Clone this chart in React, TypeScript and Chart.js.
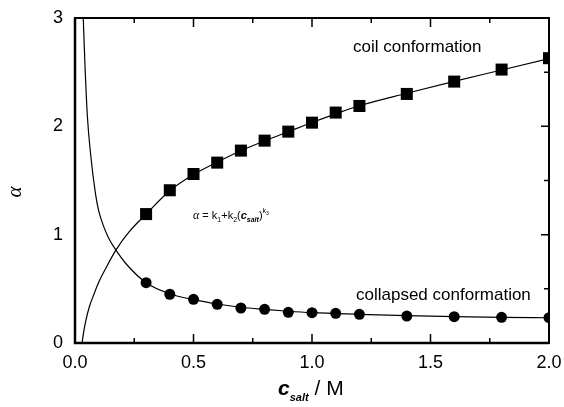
import React, { useEffect, useRef } from "react";
import { Chart, registerables } from "chart.js";

Chart.register(...registerables);

// measured data (c_salt / M)
const saltConc = [0.3, 0.4, 0.5, 0.6, 0.7, 0.8, 0.9, 1.0, 1.1, 1.2, 1.4, 1.6, 1.8, 2.0];
const coilAlpha = [1.19, 1.41, 1.56, 1.665, 1.776, 1.868, 1.951, 2.034, 2.127, 2.188, 2.299, 2.413, 2.524, 2.629];
const collapsedAlpha = [0.557, 0.45, 0.403, 0.357, 0.323, 0.311, 0.283, 0.28, 0.274, 0.265, 0.249, 0.243, 0.237, 0.234];

// fitted curves
const coilFitX = [0.03, 0.035, 0.045, 0.06, 0.08, 0.1, 0.13, 0.173, 0.23, 0.3, 0.4, 0.5, 0.6, 0.7, 0.8, 0.9, 1.0, 1.1, 1.2, 1.4, 1.6, 1.8, 2.0];
const coilFitY = [0.0, 0.08, 0.2, 0.33, 0.45, 0.56, 0.69, 0.86, 1.03, 1.19, 1.405, 1.555, 1.67, 1.775, 1.865, 1.95, 2.035, 2.115, 2.19, 2.305, 2.415, 2.52, 2.625];
const collapsedFitX = [0.035, 0.042, 0.052, 0.066, 0.087, 0.1, 0.122, 0.145, 0.172, 0.22, 0.3, 0.4, 0.5, 0.6, 0.7, 0.8, 0.9, 1.0, 1.2, 1.4, 1.6, 1.8, 2.0];
const collapsedFitY = [2.99, 2.57, 2.1, 1.74, 1.37, 1.22, 1.07, 0.955, 0.86, 0.72, 0.557, 0.455, 0.4, 0.36, 0.33, 0.31, 0.293, 0.28, 0.265, 0.252, 0.243, 0.237, 0.233];

// axis ticks
const xTickLabels = ["0.0", "0.5", "1.0", "1.5", "2.0"];
const yTickLabels = ["0", "1", "2", "3"];
const xMajorTicks = [0.5, 1.0, 1.5];
const xMinorTicks = [0.25, 0.75, 1.25, 1.75];
const yMajorTicks = [1, 2];
const yMinorTicks = [0.5, 1.5, 2.5];

const SANS = "'Liberation Sans', Arial, sans-serif";
const SERIF = "'Liberation Serif', 'Times New Roman', serif";

function drawRuns(ctx: CanvasRenderingContext2D, x: number, y: number, runs: [string, string, number][]) {
  let cx = x;
  for (const [text, font, dy] of runs) {
    ctx.font = font;
    ctx.fillText(text, cx, y + dy);
    cx += ctx.measureText(text).width;
  }
}

const decorPlugin = {
  id: "decor",
  afterDraw(chart: any) {
    const ctx: CanvasRenderingContext2D = chart.ctx;
    const xs = chart.scales.x;
    const ys = chart.scales.y;
    const { left, right, top, bottom } = chart.chartArea;
    ctx.save();
    ctx.strokeStyle = "#000";
    ctx.fillStyle = "#000";
    // frame
    ctx.lineWidth = 2;
    ctx.strokeRect(left, top, right - left, bottom - top);
    ctx.lineWidth = 2.5;
    ctx.beginPath();
    ctx.moveTo(left, top);
    ctx.lineTo(left, bottom);
    ctx.lineTo(right, bottom);
    ctx.stroke();
    // inward ticks
    ctx.lineWidth = 1.5;
    ctx.beginPath();
    for (const v of xMajorTicks) {
      const p = xs.getPixelForValue(v);
      ctx.moveTo(p, bottom); ctx.lineTo(p, bottom - 9);
      ctx.moveTo(p, top); ctx.lineTo(p, top + 9);
    }
    for (const v of xMinorTicks) {
      const p = xs.getPixelForValue(v);
      ctx.moveTo(p, bottom); ctx.lineTo(p, bottom - 5);
      ctx.moveTo(p, top); ctx.lineTo(p, top + 5);
    }
    for (const v of yMajorTicks) {
      const p = ys.getPixelForValue(v);
      ctx.moveTo(right, p); ctx.lineTo(right - 8, p);
    }
    for (const v of yMinorTicks) {
      const p = ys.getPixelForValue(v);
      ctx.moveTo(right, p); ctx.lineTo(right - 5, p);
    }
    ctx.stroke();

    // annotations
    ctx.textAlign = "left";
    ctx.textBaseline = "alphabetic";
    ctx.font = `17px ${SANS}`;
    ctx.fillText("coil conformation", 353, 52);
    ctx.fillText("collapsed conformation", 356, 300);

    drawRuns(ctx, 193, 219, [
      ["α", `italic 12px ${SERIF}`, 0],
      [" = k", `11px ${SANS}`, 0],
      ["1", `7px ${SANS}`, 3],
      ["+k", `11px ${SANS}`, 0],
      ["2", `7px ${SANS}`, 3],
      ["(", `11px ${SANS}`, 0],
      ["c", `italic bold 11px ${SANS}`, 0],
      ["salt", `italic bold 7px ${SANS}`, 3],
      [")", `11px ${SANS}`, 0],
      ["k", `7px ${SANS}`, -6],
      ["3", `5px ${SANS}`, -4],
    ]);

    // x-axis title
    drawRuns(ctx, 278, 395, [
      ["c", `italic bold 21px ${SANS}`, 0],
      ["salt", `italic bold 11px ${SANS}`, 6],
      [" / M", `21px ${SANS}`, 0],
    ]);

    // y-axis title
    ctx.translate(15, 192);
    ctx.rotate(-Math.PI / 2);
    ctx.textAlign = "center";
    ctx.textBaseline = "middle";
    ctx.font = `italic 21px ${SERIF}`;
    ctx.fillText("α", 0, 0);
    ctx.restore();
  },
};

export default function App() {
  const canvasRef = useRef<HTMLCanvasElement | null>(null);

  useEffect(() => {
    if (!canvasRef.current) return;
    const toPts = (xs: number[], ys: number[]) => xs.map((x, i) => ({ x, y: ys[i] }));
    const chart = new Chart(canvasRef.current, {
      type: "scatter",
      data: {
        datasets: [
          {
            label: "coil",
            data: toPts(saltConc, coilAlpha),
            pointStyle: "rect",
            pointRadius: 8.5,
            backgroundColor: "#000",
            borderColor: "#000",
            borderWidth: 0,
            order: 1,
          },
          {
            label: "collapsed",
            data: toPts(saltConc, collapsedAlpha),
            pointStyle: "circle",
            pointRadius: 5.5,
            backgroundColor: "#000",
            borderColor: "#000",
            borderWidth: 0,
            order: 1,
          },
          {
            label: "coil fit",
            data: toPts(coilFitX, coilFitY),
            showLine: true,
            pointRadius: 0,
            borderColor: "#000",
            borderWidth: 1.2,
            cubicInterpolationMode: "monotone",
            order: 2,
          },
          {
            label: "collapsed fit",
            data: toPts(collapsedFitX, collapsedFitY),
            showLine: true,
            pointRadius: 0,
            borderColor: "#000",
            borderWidth: 1.2,
            cubicInterpolationMode: "monotone",
            order: 2,
          },
        ],
      },
      options: {
        animation: false,
        responsive: true,
        maintainAspectRatio: false,
        layout: { padding: { top: 18, right: 15, left: 0, bottom: 0 } },
        plugins: { legend: { display: false }, tooltip: { enabled: false } },
        scales: {
          x: {
            type: "linear",
            min: 0,
            max: 2,
            grid: { display: false, drawTicks: false },
            border: { display: false },
            afterFit: (s: any) => { s.height = 64; s.paddingLeft = 0; s.paddingRight = 0; },
            afterBuildTicks: (s: any) => {
              s.ticks = xTickLabels.map((l) => ({ value: parseFloat(l) }));
            },
            ticks: {
              color: "#000",
              padding: 9,
              maxRotation: 0,
              font: { family: SANS, size: 18 },
              callback: (v: any) => xTickLabels.find((l) => parseFloat(l) === Number(v)) ?? "",
            },
          },
          y: {
            type: "linear",
            min: 0,
            max: 3,
            grid: { display: false, drawTicks: false },
            border: { display: false },
            afterFit: (s: any) => { s.width = 75; s.paddingTop = 0; s.paddingBottom = 0; },
            afterBuildTicks: (s: any) => {
              s.ticks = yTickLabels.map((l) => ({ value: parseFloat(l) }));
            },
            ticks: {
              color: "#000",
              padding: 12,
              font: { family: SANS, size: 18 },
              callback: (v: any) => yTickLabels.find((l) => parseFloat(l) === Number(v)) ?? "",
            },
          },
        },
      },
      plugins: [decorPlugin],
    });
    return () => chart.destroy();
  }, []);

  return (
    <div style={{ position: "absolute", left: 0, top: 0, width: 564, height: 407, background: "#fff" }}>
      <canvas ref={canvasRef} />
    </div>
  );
}
